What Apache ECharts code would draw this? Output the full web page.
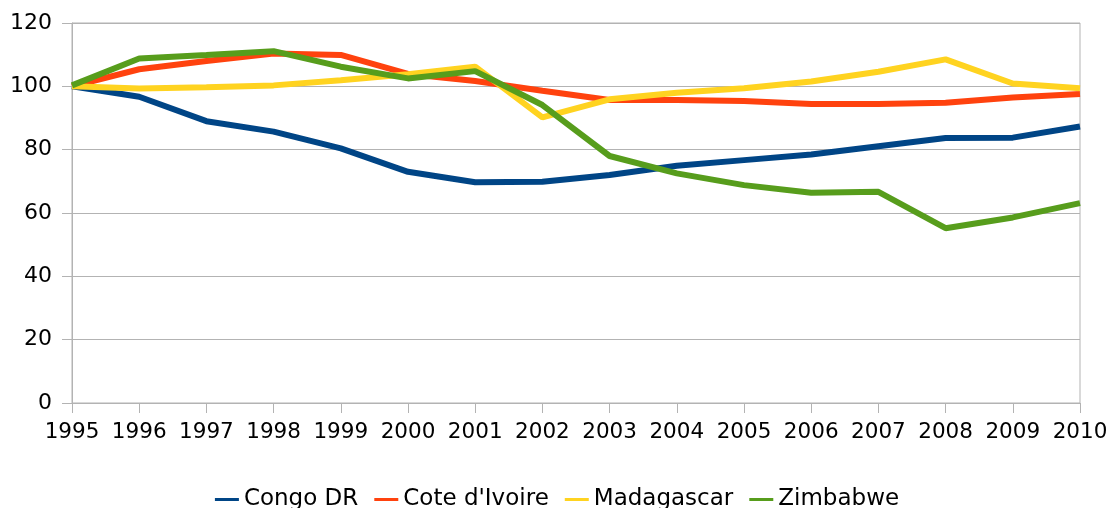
<!DOCTYPE html>
<html>
<head>
<meta charset="utf-8">
<script src="https://cdn.jsdelivr.net/npm/echarts@6/dist/echarts.min.js"></script>
<style>
  html, body { margin: 0; padding: 0; background: #fff; }
  #chart { width: 1114px; height: 508px; }
</style>
</head>
<body>
<div id="chart"></div>
<script>
// years on the x axis
var years = ['1995', '1996', '1997', '1998', '1999', '2000', '2001', '2002',
  '2003', '2004', '2005', '2006', '2007', '2008', '2009', '2010'];

// index values, 1995 = 100
var congoDR = [100, 96.7, 89.0, 85.7, 80.4, 73.0, 69.7, 69.9, 72.0, 74.9, 76.7, 78.5, 81.1, 83.7, 83.8, 87.3];
var coteIvoire = [100, 105.4, 108.0, 110.4, 109.9, 103.9, 101.7, 98.6, 95.7, 95.7, 95.4, 94.4, 94.4, 94.8, 96.5, 97.6];
var madagascar = [100, 99.3, 99.7, 100.3, 101.9, 103.8, 106.2, 90.2, 95.9, 98.0, 99.4, 101.5, 104.6, 108.5, 100.9, 99.4];
var zimbabwe = [100.3, 108.8, 109.9, 111.1, 106.2, 102.5, 104.8, 94.1, 78.0, 72.5, 68.8, 66.4, 66.7, 55.2, 58.6, 63.1];

var chart = echarts.init(document.getElementById('chart'), null, { renderer: 'canvas' });

var font = '"DejaVu Sans", "Liberation Sans", sans-serif';

function lineSeries(name, data, color) {
  return {
    name: name,
    type: 'line',
    data: data,
    symbol: 'none',
    smooth: false,
    lineStyle: { width: 6, color: color },
    itemStyle: { color: color }
  };
}

var option = {
  animation: false,
  textStyle: { fontFamily: font },
  grid: {
    left: 72,
    right: 34,
    top: 23,
    bottom: 105,
    show: true,
    borderColor: '#b3b3b3',
    borderWidth: 1
  },
  xAxis: {
    type: 'category',
    data: years,
    boundaryGap: false,
    axisLine: { lineStyle: { color: '#b3b3b3', width: 1 } },
    axisTick: { show: true, length: 10, lineStyle: { color: '#b3b3b3' } },
    axisLabel: { color: '#000', fontSize: 21.5, margin: 18, fontFamily: font, interval: 0 },
    splitLine: { show: false }
  },
  yAxis: {
    type: 'value',
    min: 0,
    max: 120,
    interval: 20,
    axisLine: { show: true, lineStyle: { color: '#b3b3b3', width: 1 } },
    axisTick: { show: true, length: 10, lineStyle: { color: '#b3b3b3' } },
    axisLabel: { color: '#000', fontSize: 22, margin: 20, fontFamily: font },
    splitLine: { show: true, lineStyle: { color: '#b3b3b3', width: 1 } }
  },
  legend: {
    top: 483,
    left: 'center',
    icon: 'rect',
    itemWidth: 24,
    itemHeight: 3,
    itemGap: 16,
    textStyle: { color: '#000', fontSize: 23, fontFamily: font },
    data: ['Congo DR', "Cote d'Ivoire", 'Madagascar', 'Zimbabwe']
  },
  series: [
    lineSeries('Congo DR', congoDR, '#004586'),
    lineSeries("Cote d'Ivoire", coteIvoire, '#ff420e'),
    lineSeries('Madagascar', madagascar, '#ffd320'),
    lineSeries('Zimbabwe', zimbabwe, '#579d1c')
  ]
};

chart.setOption(option);
</script>
</body>
</html>
